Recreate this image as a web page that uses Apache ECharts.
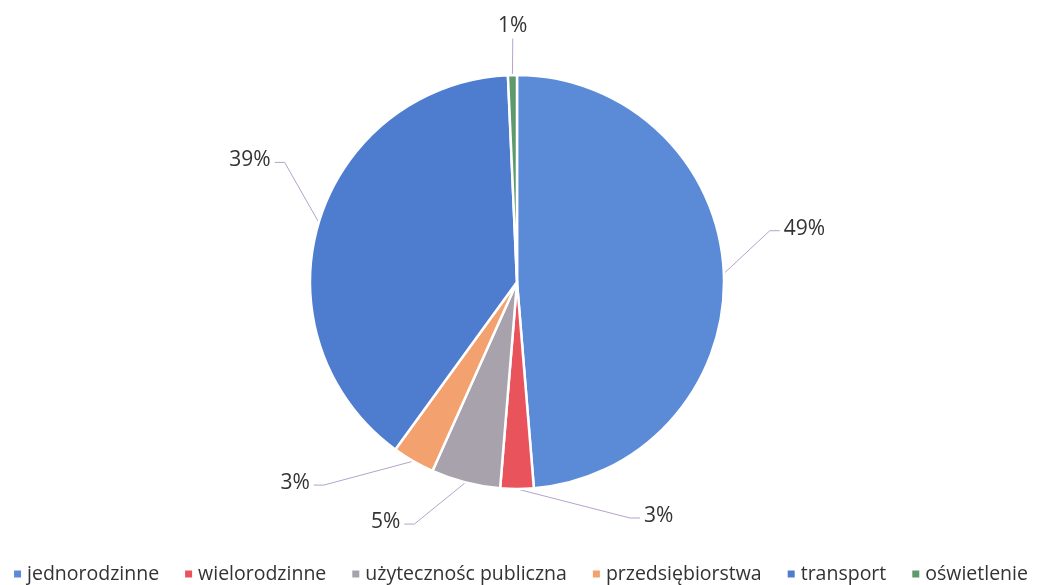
<!DOCTYPE html>
<html>
<head>
<meta charset="utf-8">
<script src="https://cdn.jsdelivr.net/npm/echarts@6/dist/echarts.min.js"></script>
<style>
  html, body { margin: 0; padding: 0; background: #fff; }
  #chart { width: 1040px; height: 585px; }
</style>
</head>
<body>
<div id="chart"></div>
<script>
// dane (udział w %)
const categories = ["jednorodzinne", "wielorodzinne", "użytecznośc publiczna", "przedsiębiorstwa", "transport", "oświetlenie"];
const shares = [48.7, 2.6, 5.4, 3.3, 39.3, 0.7];
const colors = ["#5b8ad6", "#e9545c", "#a8a2ad", "#f3a16f", "#4e7dcf", "#5f9a6c"];
// przesunięcie etykiet względem domyślnego miejsca
const labelShift = [[-2, -43], [110, -18], [-37, -4], [-64, -17], [12, -49], [33, -4]];

const chart = echarts.init(document.getElementById("chart"));

const seriesData = categories.map((name, i) => {
  return { name: name, value: shares[i], itemStyle: { color: colors[i] } };
});

// linia od krawędzi wycinka do przesuniętej etykiety
function guidePoints(params, s) {
  const p0 = params.labelLinePoints[0];
  const r = params.labelRect;
  const x = r.x + s[0], y = r.y + s[1];
  if (params.dataIndex === categories.length - 1) {
    const end = [x + r.width / 2, y + r.height + 2];
    return [p0, end, end];
  }
  const cy = y + r.height / 2 + 2;
  if (x > p0[0]) {
    return [p0, [x - 14, cy], [x - 4, cy]];
  }
  return [p0, [x + r.width + 14, cy], [x + r.width + 4, cy]];
}

const option = {
  backgroundColor: "#fff",
  animation: false,
  textStyle: { fontFamily: "Open Sans, sans-serif" },
  legend: {
    bottom: -4,
    left: "center",
    icon: "rect",
    itemWidth: 9,
    itemHeight: 9,
    itemGap: 24,
    textStyle: { fontSize: 19.5, color: "#333", fontFamily: "Open Sans" },
    data: categories
  },
  series: [
    {
      type: "pie",
      center: [517, 282],
      radius: 207,
      startAngle: 90,
      clockwise: true,
      data: seriesData,
      itemStyle: { borderColor: "#fff", borderWidth: 2.5 },
      label: {
        show: true,
        formatter: (p) => Math.round(p.value) + "%",
        fontSize: 21,
        color: "#333",
        fontFamily: "Open Sans"
      },
      labelLine: {
        show: true,
        length: 45,
        length2: 12,
        lineStyle: { color: "#b5a3cc", width: 1 }
      },
      labelLayout: (params) => {
        const s = labelShift[params.dataIndex];
        return { dx: s[0], dy: s[1], labelLinePoints: guidePoints(params, s) };
      }
    }
  ]
};

chart.setOption(option);
</script>
</body>
</html>
